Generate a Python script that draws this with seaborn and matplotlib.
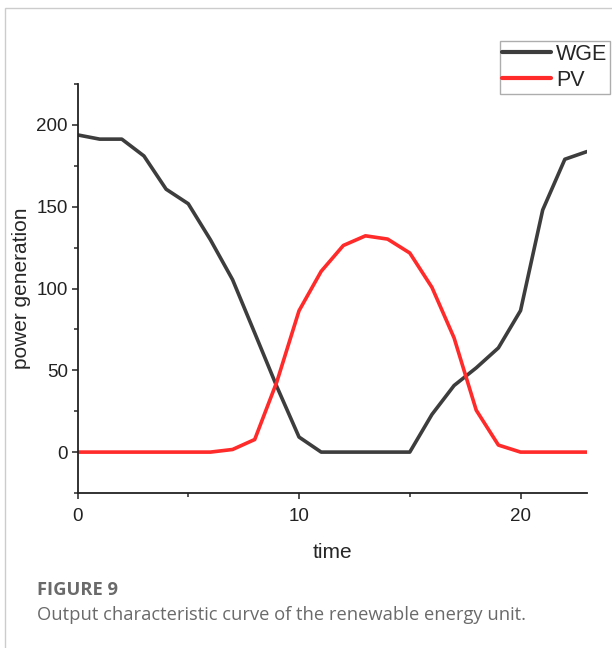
import numpy as np
import pandas as pd
import matplotlib
matplotlib.use("Agg")
import matplotlib.pyplot as plt
from matplotlib.patches import Rectangle
from matplotlib.ticker import MultipleLocator
from matplotlib.lines import Line2D
import seaborn as sns

# ---- data ----
time = list(range(24))
wge = [193.9, 191.3, 191.3, 181.0, 160.7, 151.8, 129.8, 105.4, 72.8, 40.0,
       9.2, 0, 0, 0, 0, 0, 23.0, 40.7, 51.5, 63.7, 86.5, 148.0, 179.0, 183.7]
pv = [0, 0, 0, 0, 0, 0, 0, 1.6, 7.7, 43.0, 86.4, 110.5, 126.3, 132.2, 130.2,
      121.7, 100.7, 69.8, 25.6, 4.3, 0, 0, 0, 0]
series_names = ["WGE", "PV"]
series_colors = ["#3d3d3d", "#ff2a2a"]
x_label = "time"
y_label = "power generation"
caption_title = "FIGURE 9"
caption_text = "Output characteristic curve of the renewable energy unit."

df = pd.DataFrame({
    "time": time * 2,
    "value": wge + pv,
    "series": [series_names[0]] * len(time) + [series_names[1]] * len(time),
})

sns.set_style("ticks")
plt.rcParams["font.family"] = ["Liberation Sans", "DejaVu Sans"]

W, H = 612, 648
fig = plt.figure(figsize=(W / 100, H / 100), dpi=100)
ax = fig.add_axes([77.5 / W, 1 - 493 / H, (587 - 77.5) / W, (493 - 84) / H])

sns.lineplot(data=df, x="time", y="value", hue="series",
             palette=dict(zip(series_names, series_colors)),
             linewidth=2.6, ax=ax, legend=False)

ax.set_xlim(0, 23)
ax.set_ylim(-25, 225)
ax.xaxis.set_major_locator(MultipleLocator(10))
ax.xaxis.set_minor_locator(MultipleLocator(5))
ax.yaxis.set_major_locator(MultipleLocator(50))
ax.yaxis.set_minor_locator(MultipleLocator(25))
ax.tick_params(axis="both", which="major", direction="out", length=4, width=1.1,
               labelsize=13.5, colors="#222222", pad=3)
ax.tick_params(axis="x", which="major", pad=7)
ax.tick_params(axis="both", which="minor", direction="out", length=3, width=1.1)
for s in ["top", "right"]:
    ax.spines[s].set_visible(False)
for s in ["left", "bottom"]:
    ax.spines[s].set_linewidth(1.3)
    ax.spines[s].set_color("#222222")
ax.set_xlabel(x_label, fontsize=15, labelpad=13)
ax.set_ylabel(y_label, fontsize=15, labelpad=4)

# legend
handles = [Line2D([], [], color=c, lw=3) for c in series_colors]
leg = fig.legend(handles, series_names, loc="upper right",
                 bbox_to_anchor=(610 / W, 1 - 41 / H),
                 fontsize=15.5, frameon=True, fancybox=False,
                 handlelength=2.25, handletextpad=0.25, labelspacing=0.25,
                 borderpad=0.12, borderaxespad=0)
leg.get_frame().set_edgecolor("#999999")
leg.get_frame().set_linewidth(1.0)

# figure border
fig.patches.append(Rectangle((4.5 / W, -0.1), 1.2, 1 - 8 / H + 0.1,
                             transform=fig.transFigure, fill=False,
                             edgecolor="#cccccc", linewidth=1.0))

# caption
fig.text(37 / W, 1 - 590 / H, caption_title, fontsize=13.2, fontweight="bold",
         color="#6a6a6a", family=["Open Sans", "DejaVu Sans"], va="center")
fig.text(37 / W, 1 - 615 / H, caption_text, fontsize=13.2,
         color="#6a6a6a", family=["Open Sans", "DejaVu Sans"], va="center")

fig.savefig("out.png", dpi=100)
